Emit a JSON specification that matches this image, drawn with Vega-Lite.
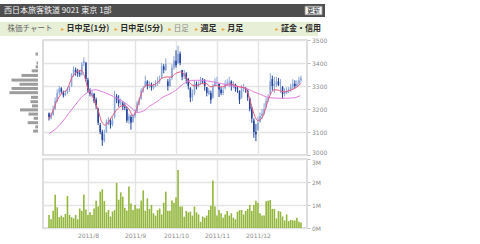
{
  "$schema": "https://vega.github.io/schema/vega-lite/v6.json",
  "padding": {"left": 0, "top": 4, "right": 4, "bottom": 2},
  "background": "white",
  "config": {
    "view": {"stroke": null},
    "axis": {"labelFont": "DejaVu Sans", "labelFontSize": 6, "labelColor": "#8c8c8c", "gridColor": "#e4e4e4", "gridWidth": 1.5, "tickColor": "#c4c4c4", "domain": false, "title": null},
    "axisY": {"labelOverlap": false},
    "text": {"font": "Noto Sans CJK JP"}
  },
  "datasets": {
    "ohlc": [
      {"i":0,"o":3180,"h":3185,"l":3150,"c":3165,"v":570000},
      {"i":1,"o":3160,"h":3185,"l":3155,"c":3175,"v":380000},
      {"i":2,"o":3175,"h":3215,"l":3170,"c":3200,"v":750000},
      {"i":3,"o":3200,"h":3250,"l":3195,"c":3235,"v":1450000},
      {"i":4,"o":3235,"h":3285,"l":3230,"c":3270,"v":900000},
      {"i":5,"o":3270,"h":3300,"l":3260,"c":3290,"v":470000},
      {"i":6,"o":3290,"h":3295,"l":3265,"c":3275,"v":540000},
      {"i":7,"o":3270,"h":3280,"l":3250,"c":3260,"v":470000},
      {"i":8,"o":3260,"h":3280,"l":3255,"c":3270,"v":610000},
      {"i":9,"o":3270,"h":3295,"l":3265,"c":3285,"v":1390000},
      {"i":10,"o":3285,"h":3300,"l":3275,"c":3290,"v":570000},
      {"i":11,"o":3300,"h":3355,"l":3295,"c":3345,"v":470000},
      {"i":12,"o":3345,"h":3385,"l":3340,"c":3370,"v":420000},
      {"i":13,"o":3370,"h":3380,"l":3345,"c":3360,"v":570000},
      {"i":14,"o":3360,"h":3375,"l":3340,"c":3355,"v":380000},
      {"i":15,"o":3355,"h":3370,"l":3340,"c":3350,"v":850000},
      {"i":16,"o":3350,"h":3405,"l":3345,"c":3395,"v":750000},
      {"i":17,"o":3400,"h":3425,"l":3385,"c":3410,"v":1460000},
      {"i":18,"o":3400,"h":3405,"l":3320,"c":3330,"v":800000},
      {"i":19,"o":3325,"h":3335,"l":3270,"c":3280,"v":570000},
      {"i":20,"o":3280,"h":3290,"l":3255,"c":3265,"v":680000},
      {"i":21,"o":3260,"h":3280,"l":3250,"c":3270,"v":570000},
      {"i":22,"o":3265,"h":3270,"l":3225,"c":3235,"v":850000},
      {"i":23,"o":3240,"h":3250,"l":3200,"c":3215,"v":1190000},
      {"i":24,"o":3200,"h":3205,"l":3130,"c":3140,"v":930000},
      {"i":25,"o":3130,"h":3140,"l":3090,"c":3100,"v":1580000},
      {"i":26,"o":3100,"h":3110,"l":3040,"c":3065,"v":1680000},
      {"i":27,"o":3060,"h":3110,"l":3055,"c":3090,"v":1170000},
      {"i":28,"o":3100,"h":3155,"l":3095,"c":3145,"v":680000},
      {"i":29,"o":3140,"h":3165,"l":3130,"c":3150,"v":780000},
      {"i":30,"o":3150,"h":3160,"l":3115,"c":3130,"v":500000},
      {"i":31,"o":3135,"h":3165,"l":3125,"c":3150,"v":720000},
      {"i":32,"o":3165,"h":3280,"l":3160,"c":3250,"v":780000},
      {"i":33,"o":3255,"h":3265,"l":3225,"c":3240,"v":1960000},
      {"i":34,"o":3240,"h":3260,"l":3210,"c":3225,"v":1230000},
      {"i":35,"o":3225,"h":3245,"l":3215,"c":3230,"v":1550000},
      {"i":36,"o":3225,"h":3235,"l":3195,"c":3210,"v":1360000},
      {"i":37,"o":3210,"h":3225,"l":3195,"c":3205,"v":880000},
      {"i":38,"o":3200,"h":3210,"l":3140,"c":3150,"v":750000},
      {"i":39,"o":3150,"h":3180,"l":3135,"c":3170,"v":1800000},
      {"i":40,"o":3165,"h":3175,"l":3110,"c":3140,"v":1070000},
      {"i":41,"o":3145,"h":3180,"l":3140,"c":3170,"v":780000},
      {"i":42,"o":3170,"h":3200,"l":3160,"c":3185,"v":1000000},
      {"i":43,"o":3190,"h":3235,"l":3185,"c":3225,"v":850000},
      {"i":44,"o":3225,"h":3250,"l":3215,"c":3240,"v":850000},
      {"i":45,"o":3245,"h":3290,"l":3240,"c":3280,"v":1190000},
      {"i":46,"o":3280,"h":3300,"l":3270,"c":3290,"v":1640000},
      {"i":47,"o":3300,"h":3345,"l":3295,"c":3320,"v":750000},
      {"i":48,"o":3320,"h":3325,"l":3285,"c":3300,"v":1290000},
      {"i":49,"o":3300,"h":3320,"l":3290,"c":3305,"v":830000},
      {"i":50,"o":3305,"h":3315,"l":3280,"c":3295,"v":1000000},
      {"i":51,"o":3290,"h":3310,"l":3285,"c":3300,"v":640000},
      {"i":52,"o":3300,"h":3325,"l":3295,"c":3305,"v":540000},
      {"i":53,"o":3310,"h":3340,"l":3300,"c":3320,"v":780000},
      {"i":54,"o":3320,"h":3345,"l":3310,"c":3330,"v":850000},
      {"i":55,"o":3335,"h":3400,"l":3330,"c":3385,"v":590000},
      {"i":56,"o":3385,"h":3395,"l":3355,"c":3370,"v":1100000},
      {"i":57,"o":3370,"h":3420,"l":3365,"c":3395,"v":1580000},
      {"i":58,"o":3320,"h":3330,"l":3280,"c":3300,"v":750000},
      {"i":59,"o":3300,"h":3340,"l":3295,"c":3330,"v":750000},
      {"i":60,"o":3335,"h":3395,"l":3325,"c":3380,"v":1200000},
      {"i":61,"o":3380,"h":3430,"l":3370,"c":3410,"v":1100000},
      {"i":62,"o":3410,"h":3455,"l":3380,"c":3390,"v":1330000},
      {"i":63,"o":3400,"h":3475,"l":3395,"c":3440,"v":2520000},
      {"i":64,"o":3440,"h":3450,"l":3390,"c":3400,"v":930000},
      {"i":65,"o":3370,"h":3370,"l":3325,"c":3340,"v":940000},
      {"i":66,"o":3340,"h":3370,"l":3330,"c":3355,"v":490000},
      {"i":67,"o":3355,"h":3360,"l":3310,"c":3330,"v":740000},
      {"i":68,"o":3330,"h":3335,"l":3285,"c":3300,"v":680000},
      {"i":69,"o":3290,"h":3295,"l":3230,"c":3250,"v":710000},
      {"i":70,"o":3250,"h":3285,"l":3235,"c":3270,"v":540000},
      {"i":71,"o":3270,"h":3325,"l":3260,"c":3310,"v":930000},
      {"i":72,"o":3310,"h":3320,"l":3285,"c":3300,"v":680000},
      {"i":73,"o":3300,"h":3320,"l":3295,"c":3305,"v":590000},
      {"i":74,"o":3310,"h":3340,"l":3305,"c":3325,"v":270000},
      {"i":75,"o":3325,"h":3335,"l":3310,"c":3320,"v":500000},
      {"i":76,"o":3320,"h":3330,"l":3280,"c":3300,"v":450000},
      {"i":77,"o":3295,"h":3295,"l":3255,"c":3270,"v":540000},
      {"i":78,"o":3265,"h":3290,"l":3260,"c":3280,"v":780000},
      {"i":79,"o":3270,"h":3280,"l":3223,"c":3240,"v":970000},
      {"i":80,"o":3250,"h":3310,"l":3245,"c":3300,"v":2060000},
      {"i":81,"o":3300,"h":3335,"l":3295,"c":3320,"v":930000},
      {"i":82,"o":3320,"h":3340,"l":3305,"c":3320,"v":540000},
      {"i":83,"o":3310,"h":3310,"l":3252,"c":3285,"v":780000},
      {"i":84,"o":3285,"h":3295,"l":3260,"c":3270,"v":640000},
      {"i":85,"o":3270,"h":3295,"l":3260,"c":3280,"v":450000},
      {"i":86,"o":3290,"h":3325,"l":3285,"c":3310,"v":590000},
      {"i":87,"o":3310,"h":3330,"l":3300,"c":3315,"v":740000},
      {"i":88,"o":3315,"h":3340,"l":3295,"c":3320,"v":540000},
      {"i":89,"o":3320,"h":3325,"l":3280,"c":3300,"v":640000},
      {"i":90,"o":3300,"h":3320,"l":3290,"c":3310,"v":450000},
      {"i":91,"o":3305,"h":3310,"l":3275,"c":3290,"v":380000},
      {"i":92,"o":3290,"h":3300,"l":3270,"c":3285,"v":710000},
      {"i":93,"o":3280,"h":3280,"l":3222,"c":3240,"v":780000},
      {"i":94,"o":3250,"h":3305,"l":3245,"c":3290,"v":780000},
      {"i":95,"o":3290,"h":3310,"l":3275,"c":3295,"v":590000},
      {"i":96,"o":3290,"h":3295,"l":3270,"c":3285,"v":740000},
      {"i":97,"o":3280,"h":3285,"l":3235,"c":3250,"v":830000},
      {"i":98,"o":3245,"h":3250,"l":3190,"c":3200,"v":1000000},
      {"i":99,"o":3200,"h":3210,"l":3140,"c":3160,"v":740000},
      {"i":100,"o":3150,"h":3160,"l":3075,"c":3100,"v":1000000},
      {"i":101,"o":3100,"h":3135,"l":3060,"c":3090,"v":1190000},
      {"i":102,"o":3110,"h":3165,"l":3105,"c":3140,"v":1100000},
      {"i":103,"o":3145,"h":3185,"l":3140,"c":3170,"v":640000},
      {"i":104,"o":3170,"h":3200,"l":3155,"c":3180,"v":540000},
      {"i":105,"o":3180,"h":3225,"l":3175,"c":3200,"v":540000},
      {"i":106,"o":3210,"h":3250,"l":3205,"c":3235,"v":1160000},
      {"i":107,"o":3240,"h":3265,"l":3230,"c":3250,"v":1190000},
      {"i":108,"o":3265,"h":3355,"l":3260,"c":3320,"v":1220000},
      {"i":109,"o":3330,"h":3345,"l":3280,"c":3300,"v":830000},
      {"i":110,"o":3300,"h":3340,"l":3270,"c":3310,"v":830000},
      {"i":111,"o":3305,"h":3340,"l":3295,"c":3320,"v":420000},
      {"i":112,"o":3320,"h":3335,"l":3300,"c":3305,"v":740000},
      {"i":113,"o":3300,"h":3330,"l":3270,"c":3300,"v":710000},
      {"i":114,"o":3295,"h":3300,"l":3245,"c":3265,"v":500000},
      {"i":115,"o":3265,"h":3290,"l":3255,"c":3275,"v":330000},
      {"i":116,"o":3270,"h":3295,"l":3265,"c":3280,"v":590000},
      {"i":117,"o":3280,"h":3295,"l":3270,"c":3285,"v":300000},
      {"i":118,"o":3285,"h":3310,"l":3275,"c":3295,"v":350000},
      {"i":119,"o":3295,"h":3330,"l":3285,"c":3310,"v":330000},
      {"i":120,"o":3310,"h":3325,"l":3290,"c":3300,"v":330000},
      {"i":121,"o":3300,"h":3325,"l":3295,"c":3310,"v":450000},
      {"i":122,"o":3310,"h":3340,"l":3305,"c":3325,"v":270000},
      {"i":123,"o":3325,"h":3345,"l":3315,"c":3335,"v":240000}
    ],
    "ma": [
      {"s":"long","i":0,"v":3093},{"s":"long","i":3.3,"v":3114},{"s":"long","i":6.4,"v":3143},{"s":"long","i":9.5,"v":3180},
      {"s":"long","i":12.7,"v":3216},{"s":"long","i":15.8,"v":3250},{"s":"long","i":18.1,"v":3268},{"s":"long","i":20.5,"v":3280},
      {"s":"long","i":22.8,"v":3284},{"s":"long","i":25.2,"v":3278},{"s":"long","i":28.3,"v":3267},{"s":"long","i":31.4,"v":3255},
      {"s":"long","i":34.6,"v":3240},{"s":"long","i":37.7,"v":3223},{"s":"long","i":40.5,"v":3203},{"s":"long","i":43,"v":3185},
      {"s":"long","i":46.2,"v":3192},{"s":"long","i":49.3,"v":3214},{"s":"long","i":52.4,"v":3230},{"s":"long","i":55.6,"v":3252},
      {"s":"long","i":58.7,"v":3264},{"s":"long","i":61.8,"v":3281},{"s":"long","i":65,"v":3305},{"s":"long","i":68.1,"v":3322},
      {"s":"long","i":71.2,"v":3325},{"s":"long","i":74.3,"v":3325},{"s":"long","i":77.5,"v":3322},{"s":"long","i":80.6,"v":3317},
      {"s":"long","i":84.3,"v":3310},{"s":"long","i":87.5,"v":3303},{"s":"long","i":90.6,"v":3299},{"s":"long","i":93.7,"v":3296},
      {"s":"long","i":96.9,"v":3288},{"s":"long","i":100,"v":3274},{"s":"long","i":103.1,"v":3264},{"s":"long","i":106.3,"v":3252},
      {"s":"long","i":109.4,"v":3248},{"s":"long","i":112.5,"v":3247},{"s":"long","i":115.6,"v":3247},{"s":"long","i":118.8,"v":3248},
      {"s":"long","i":121.1,"v":3252},{"s":"long","i":122.6,"v":3258},
      {"s":"short","i":0,"v":3158},{"s":"short","i":1.7,"v":3187},{"s":"short","i":4,"v":3238},{"s":"short","i":6.4,"v":3270},
      {"s":"short","i":8.7,"v":3283},{"s":"short","i":11.1,"v":3335},{"s":"short","i":13.4,"v":3360},{"s":"short","i":15.8,"v":3368},
      {"s":"short","i":17.4,"v":3340},{"s":"short","i":18.9,"v":3290},{"s":"short","i":21.3,"v":3255},{"s":"short","i":23.6,"v":3205},
      {"s":"short","i":26,"v":3140},{"s":"short","i":27.5,"v":3130},{"s":"short","i":29.9,"v":3155},{"s":"short","i":32.2,"v":3187},
      {"s":"short","i":34.6,"v":3209},{"s":"short","i":36.9,"v":3216},{"s":"short","i":39.3,"v":3195},{"s":"short","i":41,"v":3170},
      {"s":"short","i":43,"v":3205},{"s":"short","i":44.6,"v":3255},{"s":"short","i":46.2,"v":3290},{"s":"short","i":47.7,"v":3305},
      {"s":"short","i":50.1,"v":3303},{"s":"short","i":52.4,"v":3310},{"s":"short","i":54.8,"v":3332},{"s":"short","i":57.1,"v":3339},
      {"s":"short","i":59.5,"v":3339},{"s":"short","i":61.8,"v":3354},{"s":"short","i":64.2,"v":3361},{"s":"short","i":65.7,"v":3354},
      {"s":"short","i":67.3,"v":3332},{"s":"short","i":69.7,"v":3305},{"s":"short","i":72,"v":3300},{"s":"short","i":74.3,"v":3310},
      {"s":"short","i":76.7,"v":3310},{"s":"short","i":79,"v":3296},{"s":"short","i":81.4,"v":3303},{"s":"short","i":83.5,"v":3296},
      {"s":"short","i":85.9,"v":3300},{"s":"short","i":88.2,"v":3310},{"s":"short","i":90.6,"v":3303},{"s":"short","i":92.9,"v":3296},
      {"s":"short","i":95.3,"v":3292},{"s":"short","i":96.9,"v":3274},{"s":"short","i":98.4,"v":3230},{"s":"short","i":100,"v":3180},
      {"s":"short","i":101.9,"v":3150},{"s":"short","i":103.9,"v":3160},{"s":"short","i":105.5,"v":3195},{"s":"short","i":107,"v":3240},
      {"s":"short","i":108.6,"v":3272},{"s":"short","i":110.2,"v":3284},{"s":"short","i":112.5,"v":3281},{"s":"short","i":114.9,"v":3274},
      {"s":"short","i":117.2,"v":3280},{"s":"short","i":119.6,"v":3288},{"s":"short","i":122,"v":3303},{"s":"short","i":123,"v":3312}
    ],
    "vp": [
      {"p":3457,"n":2.5},{"p":3414,"n":1.5},{"p":3396,"n":2.3},{"p":3377,"n":6.3},{"p":3355,"n":16.5},{"p":3333,"n":26.5},
      {"p":3313,"n":18.5},{"p":3293,"n":26.5},{"p":3273,"n":28.5},{"p":3251,"n":7},{"p":3230,"n":7.5},{"p":3210,"n":6},
      {"p":3191,"n":18},{"p":3171,"n":9.5},{"p":3151,"n":4.3},{"p":3130,"n":10.3},{"p":3110,"n":2.7},{"p":3090,"n":4.8}
    ]
  },
  "spacing": 0,
  "vconcat": [
    {
      "spacing": 5,
      "vconcat": [
        {
          "width": 325, "height": 13,
          "view": {"fill": "#4e4e4e", "stroke": null},
          "data": {"values": [{"role": "title", "label": "西日本旅客鉄道 9021 東京 1部"}, {"role": "button", "label": "更新"}]},
          "layer": [
            {
              "transform": [{"filter": "datum.role == 'title'"}],
              "mark": {"type": "text", "align": "left", "baseline": "middle", "color": "#f2f2f2", "fontSize": 8},
              "encoding": {
                "x": {"field": "role", "type": "nominal", "bandPosition": 0, "axis": null, "scale": {"type": "band", "domain": ["title", "button"], "paddingInner": 0, "paddingOuter": 0.0252}},
                "text": {"field": "label"}
              }
            },
            {
              "transform": [{"filter": "datum.role == 'button'"}],
              "mark": {"type": "point", "shape": "M-1,-0.5H1V0.5H-1Z", "size": 289, "filled": true, "fill": "#f4f4f4", "stroke": "#9a9a9a", "strokeWidth": 0.8, "opacity": 1},
              "encoding": {
                "x": {"field": "role", "type": "nominal", "bandPosition": 0.953, "axis": null, "scale": {"type": "band", "domain": ["title", "button"], "paddingInner": 0, "paddingOuter": 0.0252}}
              }
            },
            {
              "transform": [{"filter": "datum.role == 'button'"}],
              "mark": {"type": "text", "align": "center", "baseline": "middle", "color": "#333333", "fontSize": 6.5},
              "encoding": {
                "x": {"field": "role", "type": "nominal", "bandPosition": 0.953, "axis": null, "scale": {"type": "band", "domain": ["title", "button"], "paddingInner": 0, "paddingOuter": 0.0252}},
                "text": {"field": "label"}
              }
            }
          ]
        },
        {
          "width": 318, "height": 14,
          "view": {"fill": "#e7efd6", "stroke": null},
          "data": {"values": [
            {"item": "株価チャート", "kind": "plain"},
            {"item": "日中足(1分)", "kind": "link"},
            {"item": "日中足(5分)", "kind": "link"},
            {"item": "日足", "kind": "current"},
            {"item": "週足", "kind": "link"},
            {"item": "月足", "kind": "link"},
            {"item": "証金・信用", "kind": "link"}
          ]},
          "layer": [
            {
              "transform": [{"filter": "datum.kind != 'plain'"}],
              "mark": {"type": "text", "align": "left", "baseline": "middle", "color": "#f0a030", "fontSize": 6, "font": "DejaVu Sans"},
              "encoding": {
                "x": {"field": "item", "type": "nominal", "bandPosition": 0, "axis": null, "scale": {"type": "band", "domain": ["株価チャート", "_1", "日中足(1分)", "_3", "日中足(5分)", "_5", "日足", "週足", "月足", "_9", "証金・信用"], "paddingInner": 0, "paddingOuter": 0.433, "align": 0.328}},
                "text": {"value": "▸"}
              }
            },
            {
              "transform": [{"filter": "datum.kind == 'plain'"}],
              "mark": {"type": "text", "align": "left", "baseline": "middle", "color": "#666666", "fontSize": 7.5},
              "encoding": {
                "x": {"field": "item", "type": "nominal", "bandPosition": 0, "axis": null, "scale": {"type": "band", "domain": ["株価チャート", "_1", "日中足(1分)", "_3", "日中足(5分)", "_5", "日足", "週足", "月足", "_9", "証金・信用"], "paddingInner": 0, "paddingOuter": 0.433, "align": 0.328}},
                "text": {"field": "item"}
              }
            },
            {
              "transform": [{"filter": "datum.kind == 'current'"}],
              "mark": {"type": "text", "align": "left", "baseline": "middle", "color": "#8a8a8a", "fontSize": 7.5},
              "encoding": {
                "x": {"field": "item", "type": "nominal", "bandPosition": 0.2, "axis": null, "scale": {"type": "band", "domain": ["株価チャート", "_1", "日中足(1分)", "_3", "日中足(5分)", "_5", "日足", "週足", "月足", "_9", "証金・信用"], "paddingInner": 0, "paddingOuter": 0.433, "align": 0.328}},
                "text": {"field": "item"}
              }
            },
            {
              "transform": [{"filter": "datum.kind == 'link'"}],
              "mark": {"type": "text", "align": "left", "baseline": "middle", "color": "#2a2a2a", "fontSize": 8, "fontWeight": "bold"},
              "encoding": {
                "x": {"field": "item", "type": "nominal", "bandPosition": 0.2, "axis": null, "scale": {"type": "band", "domain": ["株価チャート", "_1", "日中足(1分)", "_3", "日中足(5分)", "_5", "日足", "週足", "月足", "_9", "証金・信用"], "paddingInner": 0, "paddingOuter": 0.433, "align": 0.328}},
                "text": {"field": "item"}
              }
            }
          ]
        }
      ]
    },
    {
      "spacing": 4,
      "hconcat": [
        {
          "spacing": 4,
          "bounds": "flush",
          "vconcat": [
            {
              "width": 38, "height": 115,
              "data": {"name": "vp"},
              "mark": {"type": "bar", "orient": "horizontal", "height": 3, "color": "#9d9d9d"},
              "encoding": {
                "x": {"field": "n", "type": "quantitative", "stack": null, "axis": null, "scale": {"domain": [0, 38], "reverse": true, "nice": false}},
                "y": {"field": "p", "type": "quantitative", "axis": null, "scale": {"domain": [3000, 3500], "nice": false, "zero": false}}
              }
            },
            {
              "width": 38, "height": 69,
              "data": {"values": []},
              "mark": "point"
            }
          ]
        },
        {
          "spacing": 4,
          "bounds": "flush",
          "vconcat": [
            {
              "width": 264, "height": 115,
              "view": {"stroke": "#d2d2d2", "strokeWidth": 1.5},
              "data": {"name": "ohlc"},
              "layer": [
                {
                  "mark": {"type": "rule", "strokeWidth": 1},
                  "encoding": {
                    "x": {"field": "i", "type": "quantitative", "scale": {"domain": [-0.5, 123.5], "nice": false, "zero": false},
                          "axis": {"values": [19, 42, 62, 82, 102], "labels": false, "ticks": false, "grid": true}},
                    "y": {"field": "l", "type": "quantitative", "scale": {"domain": [3000, 3500], "nice": false, "zero": false},
                          "axis": {"orient": "right", "values": [3000, 3100, 3200, 3300, 3400, 3500], "format": "d", "labelOverlap": false, "tickSize": 3, "labelPadding": 1.5, "grid": true,
                                   "labelBaseline": {"condition": {"test": "datum.value == 3000", "value": "bottom"}, "value": "middle"}}},
                    "y2": {"field": "h"},
                    "color": {"condition": {"test": "datum.c < datum.o", "value": "#23449c"}, "value": "#8ba6d8"}
                  }
                },
                {
                  "mark": {"type": "bar", "width": 1.6},
                  "encoding": {
                    "x": {"field": "i", "type": "quantitative", "scale": {"domain": [-0.5, 123.5], "nice": false, "zero": false},
                          "axis": {"values": [19, 42, 62, 82, 102], "labels": false, "ticks": false, "grid": true}},
                    "y": {"field": "o", "type": "quantitative", "scale": {"domain": [3000, 3500], "nice": false, "zero": false},
                          "axis": {"orient": "right", "values": [3000, 3100, 3200, 3300, 3400, 3500], "format": "d", "labelOverlap": false, "tickSize": 3, "labelPadding": 1.5, "grid": true,
                                   "labelBaseline": {"condition": {"test": "datum.value == 3000", "value": "bottom"}, "value": "middle"}}},
                    "y2": {"field": "c"},
                    "color": {"condition": {"test": "datum.c < datum.o", "value": "#23449c"}, "value": "#8ba6d8"}
                  }
                },
                {
                  "data": {"name": "ma"},
                  "mark": {"type": "line", "strokeWidth": 1, "interpolate": "monotone"},
                  "encoding": {
                    "x": {"field": "i", "type": "quantitative", "scale": {"domain": [-0.5, 123.5], "nice": false, "zero": false},
                          "axis": {"values": [19, 42, 62, 82, 102], "labels": false, "ticks": false, "grid": true}},
                    "y": {"field": "v", "type": "quantitative", "scale": {"domain": [3000, 3500], "nice": false, "zero": false},
                          "axis": {"orient": "right", "values": [3000, 3100, 3200, 3300, 3400, 3500], "format": "d", "labelOverlap": false, "tickSize": 3, "labelPadding": 1.5, "grid": true,
                                   "labelBaseline": {"condition": {"test": "datum.value == 3000", "value": "bottom"}, "value": "middle"}}},
                    "color": {"field": "s", "type": "nominal", "scale": {"domain": ["long", "short"], "range": ["#e07be0", "#e8587a"]}, "legend": null}
                  }
                }
              ]
            },
            {
              "width": 264, "height": 69,
              "view": {"stroke": "#d2d2d2", "strokeWidth": 1.5},
              "data": {"name": "ohlc"},
              "mark": {"type": "bar", "width": 1.6, "color": "#93b73c"},
              "encoding": {
                "x": {"field": "i", "type": "quantitative", "scale": {"domain": [-0.5, 123.5], "nice": false, "zero": false},
                      "axis": {"values": [19, 42, 62, 82, 102], "ticks": false, "grid": true, "labelPadding": 4, "labelOverlap": false, "labelFlush": false,
                               "labelExpr": "datum.value == 19 ? '2011/8' : datum.value == 42 ? '2011/9' : datum.value == 62 ? '2011/10' : datum.value == 82 ? '2011/11' : '2011/12'"}},
                "y": {"field": "v", "type": "quantitative", "scale": {"domain": [0, 3000000], "nice": false},
                      "axis": {"orient": "right", "values": [0, 1000000, 2000000, 3000000], "labelOverlap": false, "tickSize": 3, "labelPadding": 1.5, "grid": true,
                               "labelBaseline": {"condition": {"test": "datum.value == 3000000", "value": "top"}, "value": "middle"},
                               "labelExpr": "(datum.value / 1000000) + 'M'"}}
              }
            }
          ]
        }
      ]
    }
  ]
}
